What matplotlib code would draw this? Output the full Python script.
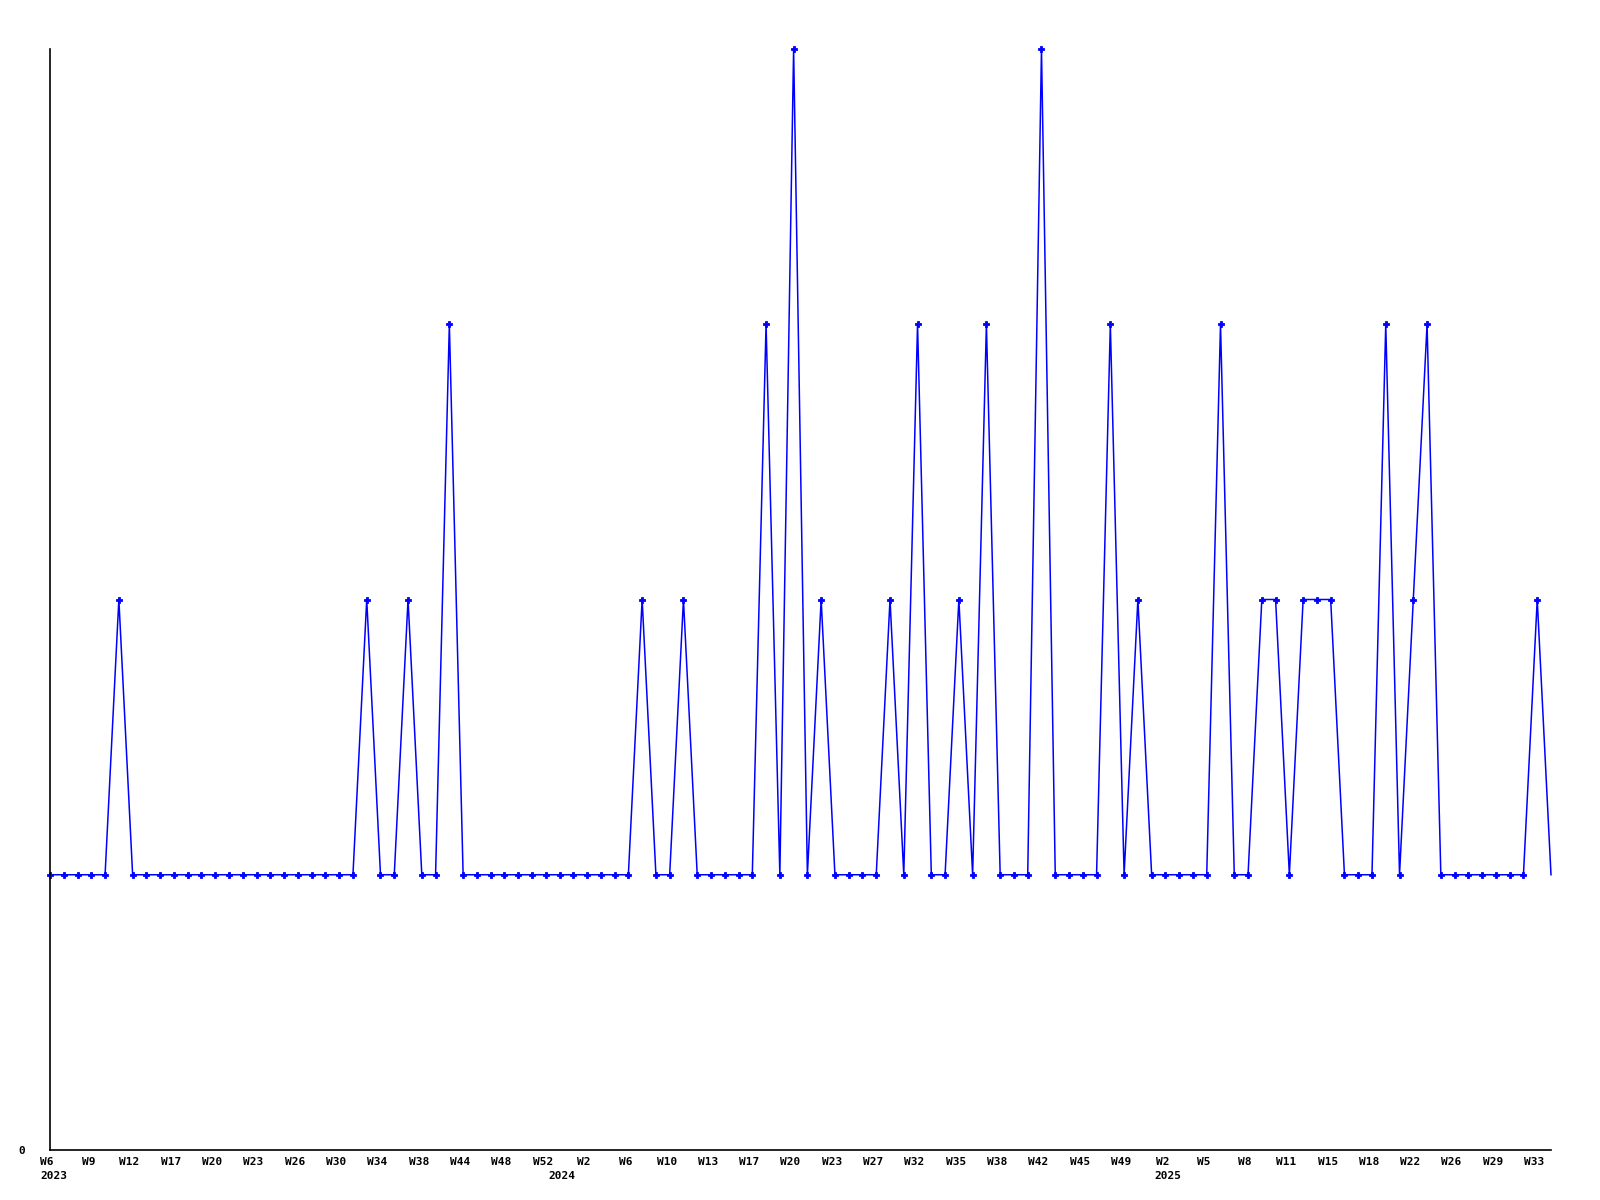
import matplotlib
matplotlib.use("Agg")
import matplotlib.pyplot as plt
import matplotlib.transforms as mtransforms

# weekly counts, one per plotted week (110 points)
values = [
    1, 1, 1, 1, 1, 2, 1, 1, 1, 1,
    1, 1, 1, 1, 1, 1, 1, 1, 1, 1,
    1, 1, 1, 2, 1, 1, 2, 1, 1, 3,
    1, 1, 1, 1, 1, 1, 1, 1, 1, 1,
    1, 1, 1, 2, 1, 1, 2, 1, 1, 1,
    1, 1, 3, 1, 4, 1, 2, 1, 1, 1,
    1, 2, 1, 3, 1, 1, 2, 1, 3, 1,
    1, 1, 4, 1, 1, 1, 1, 3, 1, 2,
    1, 1, 1, 1, 1, 3, 1, 1, 2, 2,
    1, 2, 2, 2, 1, 1, 1, 3, 1, 2,
    3, 1, 1, 1, 1, 1, 1, 1, 2, 1,
]

# a label on every third point
week_labels = [
    "W6", "W9", "W12", "W17", "W20", "W23", "W26", "W30", "W34", "W38",
    "W44", "W48", "W52", "W2", "W6", "W10", "W13", "W17", "W20", "W23",
    "W27", "W32", "W35", "W38", "W42", "W45", "W49", "W2", "W5", "W8",
    "W11", "W15", "W18", "W22", "W26", "W29", "W33",
]
label_step = 3

years = ["2023", "2024", "2025"]
year_pos = [-0.7, 36.2, 80.2]

x = list(range(len(values)))

fig = plt.figure(figsize=(16, 12), dpi=100)
ax = fig.add_axes([50 / 1600, 50 / 1200, 1501 / 1600, 1101 / 1200])

ax.plot(x, values, color="#0000ff", linewidth=1.1,
        marker="P", markersize=4.2, markeredgewidth=0.6, markeredgecolor="#0000ff",
        markevery=list(range(len(values) - 1)), clip_on=False)

ax.set_xlim(0, len(values) - 1)
ax.set_ylim(0, 4)

for side in ("top", "right"):
    ax.spines[side].set_visible(False)
for side in ("left", "bottom"):
    ax.spines[side].set_linewidth(1.2)
    ax.spines[side].set_color("black")

font = dict(family="DejaVu Sans Mono", weight="bold", size=8)

ax.set_xticks([i * label_step for i in range(len(week_labels))])
ax.set_xticklabels(week_labels, **font)
ax.tick_params(axis="x", length=0, pad=5)
shift = mtransforms.ScaledTranslation(-3 / 100, 0, fig.dpi_scale_trans)
for lbl in ax.get_xticklabels():
    lbl.set_transform(lbl.get_transform() + shift)

ax.set_yticks([0])
ax.set_yticklabels(["0"], **font)
ax.tick_params(axis="y", length=0, pad=18)

trans = mtransforms.blended_transform_factory(ax.transData, ax.transAxes)
for yr, xp in zip(years, year_pos):
    ax.text(xp, -0.019, yr, transform=trans, ha="left", va="top", **font)

fig.savefig("out.png", dpi=100)
